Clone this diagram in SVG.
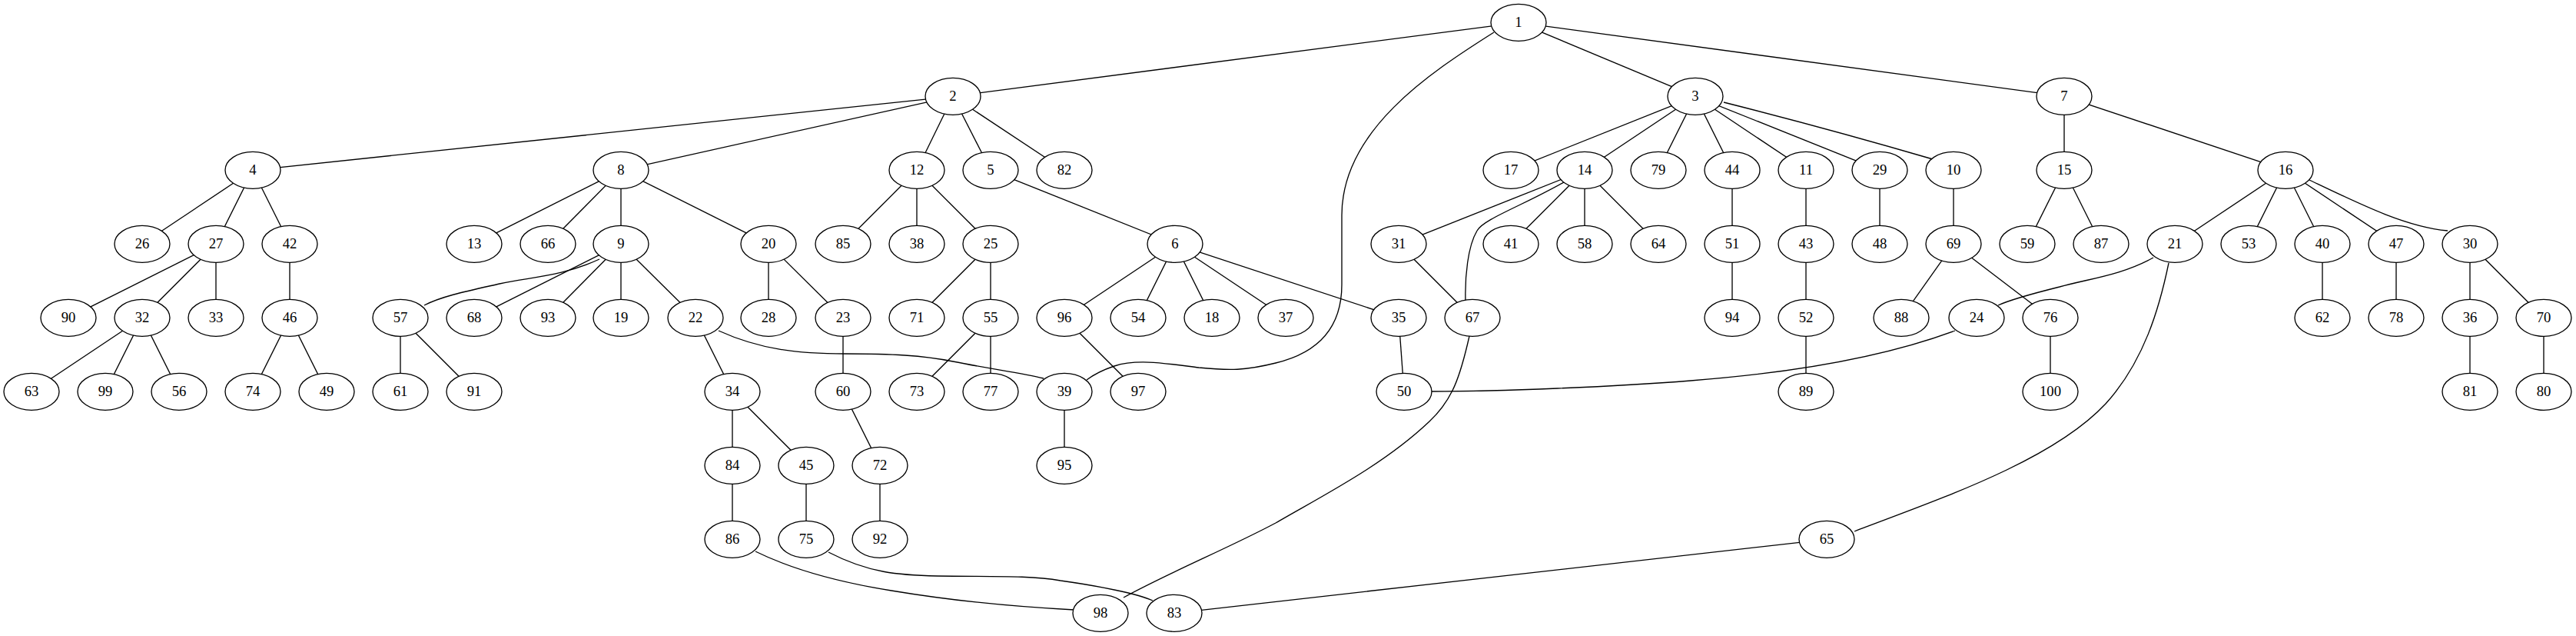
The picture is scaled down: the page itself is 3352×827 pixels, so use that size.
<svg xmlns="http://www.w3.org/2000/svg" width="3352" height="827" viewBox="0 0 3352 827">
<style>
.n ellipse{fill:#fff;stroke:#000;stroke-width:1.33}
.n text{font-family:"Liberation Serif","Times New Roman",serif;font-size:18.67px;text-anchor:middle;fill:#000}
.e line,.e path{stroke:#000;stroke-width:1.33;fill:none}
</style>
<rect width="3352" height="827" fill="#fff"/>
<g id="connectors" class="e">
<line x1="1976" y1="29.3" x2="1240" y2="125.3"/>
<line x1="1976" y1="29.3" x2="2206" y2="125.3"/>
<line x1="1976" y1="29.3" x2="2686" y2="125.3"/>
<path d="M1944,42 C1860,95 1746,170 1746,280 L1746,370 C1746,430 1710,460 1660,472 C1620,482 1600,482 1560,478 C1520,473 1480,466 1450,476 C1435,481 1422,488 1414,494"/>
<line x1="1240" y1="125.3" x2="329" y2="221.3"/>
<line x1="1240" y1="125.3" x2="808" y2="221.3"/>
<line x1="1240" y1="125.3" x2="1193" y2="221.3"/>
<line x1="1240" y1="125.3" x2="1289" y2="221.3"/>
<line x1="1240" y1="125.3" x2="1385" y2="221.3"/>
<line x1="2206" y1="125.3" x2="1966" y2="221.3"/>
<line x1="2206" y1="125.3" x2="2062" y2="221.3"/>
<line x1="2206" y1="125.3" x2="2158" y2="221.3"/>
<line x1="2206" y1="125.3" x2="2254" y2="221.3"/>
<line x1="2206" y1="125.3" x2="2350" y2="221.3"/>
<line x1="2206" y1="125.3" x2="2446" y2="221.3"/>
<path d="M2243,133 C2350,160 2450,188 2515,207"/>
<line x1="2686" y1="125.3" x2="2686" y2="221.3"/>
<line x1="2686" y1="125.3" x2="2974" y2="221.3"/>
<line x1="329" y1="221.3" x2="185" y2="317.3"/>
<line x1="329" y1="221.3" x2="281" y2="317.3"/>
<line x1="329" y1="221.3" x2="377" y2="317.3"/>
<line x1="808" y1="221.3" x2="617" y2="317.3"/>
<line x1="808" y1="221.3" x2="713" y2="317.3"/>
<line x1="808" y1="221.3" x2="808" y2="317.3"/>
<line x1="808" y1="221.3" x2="1000" y2="317.3"/>
<line x1="1193" y1="221.3" x2="1097" y2="317.3"/>
<line x1="1193" y1="221.3" x2="1193" y2="317.3"/>
<line x1="1193" y1="221.3" x2="1289" y2="317.3"/>
<line x1="1289" y1="221.3" x2="1529" y2="317.3"/>
<line x1="2062" y1="221.3" x2="1820" y2="317.3"/>
<path d="M2035,237 C1980,268 1930,285 1922,300 C1910,320 1906,360 1907,392"/>
<line x1="2062" y1="221.3" x2="1966" y2="317.3"/>
<line x1="2062" y1="221.3" x2="2062" y2="317.3"/>
<line x1="2062" y1="221.3" x2="2158" y2="317.3"/>
<line x1="2254" y1="221.3" x2="2254" y2="317.3"/>
<line x1="2350" y1="221.3" x2="2350" y2="317.3"/>
<line x1="2446" y1="221.3" x2="2446" y2="317.3"/>
<line x1="2542" y1="221.3" x2="2542" y2="317.3"/>
<line x1="2686" y1="221.3" x2="2638" y2="317.3"/>
<line x1="2686" y1="221.3" x2="2734" y2="317.3"/>
<line x1="2974" y1="221.3" x2="2830" y2="317.3"/>
<line x1="2974" y1="221.3" x2="2926" y2="317.3"/>
<line x1="2974" y1="221.3" x2="3022" y2="317.3"/>
<line x1="2974" y1="221.3" x2="3118" y2="317.3"/>
<path d="M3005,234 C3070,265 3130,295 3185,300"/>
<line x1="281" y1="317.3" x2="89" y2="413.3"/>
<line x1="281" y1="317.3" x2="185" y2="413.3"/>
<line x1="281" y1="317.3" x2="281" y2="413.3"/>
<line x1="377" y1="317.3" x2="377" y2="413.3"/>
<path d="M780,337 C730,360 690,360 650,369 C610,378 575,385 552,397"/>
<line x1="808" y1="317.3" x2="617" y2="413.3"/>
<line x1="808" y1="317.3" x2="713" y2="413.3"/>
<line x1="808" y1="317.3" x2="808" y2="413.3"/>
<line x1="808" y1="317.3" x2="905" y2="413.3"/>
<line x1="1000" y1="317.3" x2="1000" y2="413.3"/>
<line x1="1000" y1="317.3" x2="1097" y2="413.3"/>
<line x1="1289" y1="317.3" x2="1193" y2="413.3"/>
<line x1="1289" y1="317.3" x2="1289" y2="413.3"/>
<line x1="1529" y1="317.3" x2="1385" y2="413.3"/>
<line x1="1529" y1="317.3" x2="1481" y2="413.3"/>
<line x1="1529" y1="317.3" x2="1577" y2="413.3"/>
<line x1="1529" y1="317.3" x2="1673" y2="413.3"/>
<line x1="1529" y1="317.3" x2="1820" y2="413.3"/>
<line x1="1820" y1="317.3" x2="1916" y2="413.3"/>
<line x1="2254" y1="317.3" x2="2254" y2="413.3"/>
<line x1="2350" y1="317.3" x2="2350" y2="413.3"/>
<line x1="2542" y1="317.3" x2="2474" y2="413.3"/>
<line x1="2542" y1="317.3" x2="2668" y2="413.3"/>
<path d="M2802,335 C2760,358 2720,362 2680,373 C2640,383 2615,390 2600,397"/>
<path d="M2822,342 C2810,400 2790,470 2740,525 C2670,600 2520,650 2413,691"/>
<line x1="3022" y1="317.3" x2="3022" y2="413.3"/>
<line x1="3118" y1="317.3" x2="3118" y2="413.3"/>
<line x1="3214" y1="317.3" x2="3214" y2="413.3"/>
<line x1="3214" y1="317.3" x2="3310" y2="413.3"/>
<line x1="185" y1="413.3" x2="41" y2="509.3"/>
<line x1="185" y1="413.3" x2="137" y2="509.3"/>
<line x1="185" y1="413.3" x2="233" y2="509.3"/>
<line x1="377" y1="413.3" x2="329" y2="509.3"/>
<line x1="377" y1="413.3" x2="425" y2="509.3"/>
<line x1="521" y1="413.3" x2="521" y2="509.3"/>
<line x1="521" y1="413.3" x2="617" y2="509.3"/>
<line x1="905" y1="413.3" x2="953" y2="509.3"/>
<path d="M935,430 C990,455 1040,460 1100,460 C1160,460 1200,462 1240,470 C1290,480 1330,485 1358,492"/>
<line x1="1097" y1="413.3" x2="1097" y2="509.3"/>
<line x1="1289" y1="413.3" x2="1193" y2="509.3"/>
<line x1="1289" y1="413.3" x2="1289" y2="509.3"/>
<line x1="1385" y1="413.3" x2="1481" y2="509.3"/>
<line x1="1820" y1="413.3" x2="1827" y2="509.3"/>
<path d="M2544,430 C2450,465 2330,485 2200,495 C2100,503 1950,509 1863,509"/>
<line x1="2350" y1="413.3" x2="2350" y2="509.3"/>
<line x1="2668" y1="413.3" x2="2668" y2="509.3"/>
<line x1="3214" y1="413.3" x2="3214" y2="509.3"/>
<line x1="3310" y1="413.3" x2="3310" y2="509.3"/>
<line x1="953" y1="509.3" x2="953" y2="605.3"/>
<line x1="953" y1="509.3" x2="1049" y2="605.3"/>
<line x1="1097" y1="509.3" x2="1145" y2="605.3"/>
<line x1="1385" y1="509.3" x2="1385" y2="605.3"/>
<line x1="953" y1="605.3" x2="953" y2="701.3"/>
<line x1="1049" y1="605.3" x2="1049" y2="701.3"/>
<line x1="1145" y1="605.3" x2="1145" y2="701.3"/>
<path d="M983,717 C1040,745 1110,760 1160,768 C1250,783 1340,790 1398,793"/>
<path d="M1078,718 C1130,745 1170,748 1220,749 C1290,750 1340,748 1380,755 C1430,762 1480,772 1500,781"/>
<path d="M1912,437 C1900,490 1890,520 1860,548 C1800,605 1720,645 1660,680 C1600,712 1520,745 1462,777"/>
<line x1="2377" y1="701.3" x2="1528" y2="797.3"/>
</g>
<g id="node1" class="n"><ellipse cx="1976" cy="29.3" rx="36" ry="24"/><text x="1976" y="35.3">1</text></g>
<g id="node2" class="n"><ellipse cx="1240" cy="125.3" rx="36" ry="24"/><text x="1240" y="131.3">2</text></g>
<g id="node3" class="n"><ellipse cx="2206" cy="125.3" rx="36" ry="24"/><text x="2206" y="131.3">3</text></g>
<g id="node7" class="n"><ellipse cx="2686" cy="125.3" rx="36" ry="24"/><text x="2686" y="131.3">7</text></g>
<g id="node4" class="n"><ellipse cx="329" cy="221.3" rx="36" ry="24"/><text x="329" y="227.3">4</text></g>
<g id="node8" class="n"><ellipse cx="808" cy="221.3" rx="36" ry="24"/><text x="808" y="227.3">8</text></g>
<g id="node12" class="n"><ellipse cx="1193" cy="221.3" rx="36" ry="24"/><text x="1193" y="227.3">12</text></g>
<g id="node5" class="n"><ellipse cx="1289" cy="221.3" rx="36" ry="24"/><text x="1289" y="227.3">5</text></g>
<g id="node82" class="n"><ellipse cx="1385" cy="221.3" rx="36" ry="24"/><text x="1385" y="227.3">82</text></g>
<g id="node17" class="n"><ellipse cx="1966" cy="221.3" rx="36" ry="24"/><text x="1966" y="227.3">17</text></g>
<g id="node14" class="n"><ellipse cx="2062" cy="221.3" rx="36" ry="24"/><text x="2062" y="227.3">14</text></g>
<g id="node79" class="n"><ellipse cx="2158" cy="221.3" rx="36" ry="24"/><text x="2158" y="227.3">79</text></g>
<g id="node44" class="n"><ellipse cx="2254" cy="221.3" rx="36" ry="24"/><text x="2254" y="227.3">44</text></g>
<g id="node11" class="n"><ellipse cx="2350" cy="221.3" rx="36" ry="24"/><text x="2350" y="227.3">11</text></g>
<g id="node29" class="n"><ellipse cx="2446" cy="221.3" rx="36" ry="24"/><text x="2446" y="227.3">29</text></g>
<g id="node10" class="n"><ellipse cx="2542" cy="221.3" rx="36" ry="24"/><text x="2542" y="227.3">10</text></g>
<g id="node15" class="n"><ellipse cx="2686" cy="221.3" rx="36" ry="24"/><text x="2686" y="227.3">15</text></g>
<g id="node16" class="n"><ellipse cx="2974" cy="221.3" rx="36" ry="24"/><text x="2974" y="227.3">16</text></g>
<g id="node26" class="n"><ellipse cx="185" cy="317.3" rx="36" ry="24"/><text x="185" y="323.3">26</text></g>
<g id="node27" class="n"><ellipse cx="281" cy="317.3" rx="36" ry="24"/><text x="281" y="323.3">27</text></g>
<g id="node42" class="n"><ellipse cx="377" cy="317.3" rx="36" ry="24"/><text x="377" y="323.3">42</text></g>
<g id="node13" class="n"><ellipse cx="617" cy="317.3" rx="36" ry="24"/><text x="617" y="323.3">13</text></g>
<g id="node66" class="n"><ellipse cx="713" cy="317.3" rx="36" ry="24"/><text x="713" y="323.3">66</text></g>
<g id="node9" class="n"><ellipse cx="808" cy="317.3" rx="36" ry="24"/><text x="808" y="323.3">9</text></g>
<g id="node20" class="n"><ellipse cx="1000" cy="317.3" rx="36" ry="24"/><text x="1000" y="323.3">20</text></g>
<g id="node85" class="n"><ellipse cx="1097" cy="317.3" rx="36" ry="24"/><text x="1097" y="323.3">85</text></g>
<g id="node38" class="n"><ellipse cx="1193" cy="317.3" rx="36" ry="24"/><text x="1193" y="323.3">38</text></g>
<g id="node25" class="n"><ellipse cx="1289" cy="317.3" rx="36" ry="24"/><text x="1289" y="323.3">25</text></g>
<g id="node6" class="n"><ellipse cx="1529" cy="317.3" rx="36" ry="24"/><text x="1529" y="323.3">6</text></g>
<g id="node31" class="n"><ellipse cx="1820" cy="317.3" rx="36" ry="24"/><text x="1820" y="323.3">31</text></g>
<g id="node41" class="n"><ellipse cx="1966" cy="317.3" rx="36" ry="24"/><text x="1966" y="323.3">41</text></g>
<g id="node58" class="n"><ellipse cx="2062" cy="317.3" rx="36" ry="24"/><text x="2062" y="323.3">58</text></g>
<g id="node64" class="n"><ellipse cx="2158" cy="317.3" rx="36" ry="24"/><text x="2158" y="323.3">64</text></g>
<g id="node51" class="n"><ellipse cx="2254" cy="317.3" rx="36" ry="24"/><text x="2254" y="323.3">51</text></g>
<g id="node43" class="n"><ellipse cx="2350" cy="317.3" rx="36" ry="24"/><text x="2350" y="323.3">43</text></g>
<g id="node48" class="n"><ellipse cx="2446" cy="317.3" rx="36" ry="24"/><text x="2446" y="323.3">48</text></g>
<g id="node69" class="n"><ellipse cx="2542" cy="317.3" rx="36" ry="24"/><text x="2542" y="323.3">69</text></g>
<g id="node59" class="n"><ellipse cx="2638" cy="317.3" rx="36" ry="24"/><text x="2638" y="323.3">59</text></g>
<g id="node87" class="n"><ellipse cx="2734" cy="317.3" rx="36" ry="24"/><text x="2734" y="323.3">87</text></g>
<g id="node21" class="n"><ellipse cx="2830" cy="317.3" rx="36" ry="24"/><text x="2830" y="323.3">21</text></g>
<g id="node53" class="n"><ellipse cx="2926" cy="317.3" rx="36" ry="24"/><text x="2926" y="323.3">53</text></g>
<g id="node40" class="n"><ellipse cx="3022" cy="317.3" rx="36" ry="24"/><text x="3022" y="323.3">40</text></g>
<g id="node47" class="n"><ellipse cx="3118" cy="317.3" rx="36" ry="24"/><text x="3118" y="323.3">47</text></g>
<g id="node30" class="n"><ellipse cx="3214" cy="317.3" rx="36" ry="24"/><text x="3214" y="323.3">30</text></g>
<g id="node90" class="n"><ellipse cx="89" cy="413.3" rx="36" ry="24"/><text x="89" y="419.3">90</text></g>
<g id="node32" class="n"><ellipse cx="185" cy="413.3" rx="36" ry="24"/><text x="185" y="419.3">32</text></g>
<g id="node33" class="n"><ellipse cx="281" cy="413.3" rx="36" ry="24"/><text x="281" y="419.3">33</text></g>
<g id="node46" class="n"><ellipse cx="377" cy="413.3" rx="36" ry="24"/><text x="377" y="419.3">46</text></g>
<g id="node57" class="n"><ellipse cx="521" cy="413.3" rx="36" ry="24"/><text x="521" y="419.3">57</text></g>
<g id="node68" class="n"><ellipse cx="617" cy="413.3" rx="36" ry="24"/><text x="617" y="419.3">68</text></g>
<g id="node93" class="n"><ellipse cx="713" cy="413.3" rx="36" ry="24"/><text x="713" y="419.3">93</text></g>
<g id="node19" class="n"><ellipse cx="808" cy="413.3" rx="36" ry="24"/><text x="808" y="419.3">19</text></g>
<g id="node22" class="n"><ellipse cx="905" cy="413.3" rx="36" ry="24"/><text x="905" y="419.3">22</text></g>
<g id="node28" class="n"><ellipse cx="1000" cy="413.3" rx="36" ry="24"/><text x="1000" y="419.3">28</text></g>
<g id="node23" class="n"><ellipse cx="1097" cy="413.3" rx="36" ry="24"/><text x="1097" y="419.3">23</text></g>
<g id="node71" class="n"><ellipse cx="1193" cy="413.3" rx="36" ry="24"/><text x="1193" y="419.3">71</text></g>
<g id="node55" class="n"><ellipse cx="1289" cy="413.3" rx="36" ry="24"/><text x="1289" y="419.3">55</text></g>
<g id="node96" class="n"><ellipse cx="1385" cy="413.3" rx="36" ry="24"/><text x="1385" y="419.3">96</text></g>
<g id="node54" class="n"><ellipse cx="1481" cy="413.3" rx="36" ry="24"/><text x="1481" y="419.3">54</text></g>
<g id="node18" class="n"><ellipse cx="1577" cy="413.3" rx="36" ry="24"/><text x="1577" y="419.3">18</text></g>
<g id="node37" class="n"><ellipse cx="1673" cy="413.3" rx="36" ry="24"/><text x="1673" y="419.3">37</text></g>
<g id="node35" class="n"><ellipse cx="1820" cy="413.3" rx="36" ry="24"/><text x="1820" y="419.3">35</text></g>
<g id="node67" class="n"><ellipse cx="1916" cy="413.3" rx="36" ry="24"/><text x="1916" y="419.3">67</text></g>
<g id="node94" class="n"><ellipse cx="2254" cy="413.3" rx="36" ry="24"/><text x="2254" y="419.3">94</text></g>
<g id="node52" class="n"><ellipse cx="2350" cy="413.3" rx="36" ry="24"/><text x="2350" y="419.3">52</text></g>
<g id="node88" class="n"><ellipse cx="2474" cy="413.3" rx="36" ry="24"/><text x="2474" y="419.3">88</text></g>
<g id="node24" class="n"><ellipse cx="2572" cy="413.3" rx="36" ry="24"/><text x="2572" y="419.3">24</text></g>
<g id="node76" class="n"><ellipse cx="2668" cy="413.3" rx="36" ry="24"/><text x="2668" y="419.3">76</text></g>
<g id="node62" class="n"><ellipse cx="3022" cy="413.3" rx="36" ry="24"/><text x="3022" y="419.3">62</text></g>
<g id="node78" class="n"><ellipse cx="3118" cy="413.3" rx="36" ry="24"/><text x="3118" y="419.3">78</text></g>
<g id="node36" class="n"><ellipse cx="3214" cy="413.3" rx="36" ry="24"/><text x="3214" y="419.3">36</text></g>
<g id="node70" class="n"><ellipse cx="3310" cy="413.3" rx="36" ry="24"/><text x="3310" y="419.3">70</text></g>
<g id="node63" class="n"><ellipse cx="41" cy="509.3" rx="36" ry="24"/><text x="41" y="515.3">63</text></g>
<g id="node99" class="n"><ellipse cx="137" cy="509.3" rx="36" ry="24"/><text x="137" y="515.3">99</text></g>
<g id="node56" class="n"><ellipse cx="233" cy="509.3" rx="36" ry="24"/><text x="233" y="515.3">56</text></g>
<g id="node74" class="n"><ellipse cx="329" cy="509.3" rx="36" ry="24"/><text x="329" y="515.3">74</text></g>
<g id="node49" class="n"><ellipse cx="425" cy="509.3" rx="36" ry="24"/><text x="425" y="515.3">49</text></g>
<g id="node61" class="n"><ellipse cx="521" cy="509.3" rx="36" ry="24"/><text x="521" y="515.3">61</text></g>
<g id="node91" class="n"><ellipse cx="617" cy="509.3" rx="36" ry="24"/><text x="617" y="515.3">91</text></g>
<g id="node34" class="n"><ellipse cx="953" cy="509.3" rx="36" ry="24"/><text x="953" y="515.3">34</text></g>
<g id="node60" class="n"><ellipse cx="1097" cy="509.3" rx="36" ry="24"/><text x="1097" y="515.3">60</text></g>
<g id="node73" class="n"><ellipse cx="1193" cy="509.3" rx="36" ry="24"/><text x="1193" y="515.3">73</text></g>
<g id="node77" class="n"><ellipse cx="1289" cy="509.3" rx="36" ry="24"/><text x="1289" y="515.3">77</text></g>
<g id="node39" class="n"><ellipse cx="1385" cy="509.3" rx="36" ry="24"/><text x="1385" y="515.3">39</text></g>
<g id="node97" class="n"><ellipse cx="1481" cy="509.3" rx="36" ry="24"/><text x="1481" y="515.3">97</text></g>
<g id="node50" class="n"><ellipse cx="1827" cy="509.3" rx="36" ry="24"/><text x="1827" y="515.3">50</text></g>
<g id="node89" class="n"><ellipse cx="2350" cy="509.3" rx="36" ry="24"/><text x="2350" y="515.3">89</text></g>
<g id="node100" class="n"><ellipse cx="2668" cy="509.3" rx="36" ry="24"/><text x="2668" y="515.3">100</text></g>
<g id="node81" class="n"><ellipse cx="3214" cy="509.3" rx="36" ry="24"/><text x="3214" y="515.3">81</text></g>
<g id="node80" class="n"><ellipse cx="3310" cy="509.3" rx="36" ry="24"/><text x="3310" y="515.3">80</text></g>
<g id="node84" class="n"><ellipse cx="953" cy="605.3" rx="36" ry="24"/><text x="953" y="611.3">84</text></g>
<g id="node45" class="n"><ellipse cx="1049" cy="605.3" rx="36" ry="24"/><text x="1049" y="611.3">45</text></g>
<g id="node72" class="n"><ellipse cx="1145" cy="605.3" rx="36" ry="24"/><text x="1145" y="611.3">72</text></g>
<g id="node95" class="n"><ellipse cx="1385" cy="605.3" rx="36" ry="24"/><text x="1385" y="611.3">95</text></g>
<g id="node86" class="n"><ellipse cx="953" cy="701.3" rx="36" ry="24"/><text x="953" y="707.3">86</text></g>
<g id="node75" class="n"><ellipse cx="1049" cy="701.3" rx="36" ry="24"/><text x="1049" y="707.3">75</text></g>
<g id="node92" class="n"><ellipse cx="1145" cy="701.3" rx="36" ry="24"/><text x="1145" y="707.3">92</text></g>
<g id="node65" class="n"><ellipse cx="2377" cy="701.3" rx="36" ry="24"/><text x="2377" y="707.3">65</text></g>
<g id="node98" class="n"><ellipse cx="1432" cy="797.3" rx="36" ry="24"/><text x="1432" y="803.3">98</text></g>
<g id="node83" class="n"><ellipse cx="1528" cy="797.3" rx="36" ry="24"/><text x="1528" y="803.3">83</text></g>
</svg>
